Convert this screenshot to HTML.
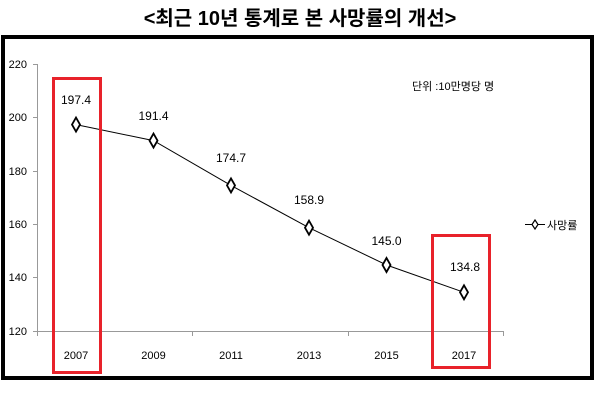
<!DOCTYPE html>
<html><head><meta charset="utf-8"><style>
html,body{margin:0;padding:0;background:#fff;width:600px;height:400px;overflow:hidden}
</style></head><body>
<svg width="600" height="400" xmlns="http://www.w3.org/2000/svg" font-family="'Liberation Sans Narrow','Liberation Sans','Noto Sans CJK KR',sans-serif">
<text x="300" y="25" text-anchor="middle" font-size="20" font-weight="bold" font-family="'Liberation Sans','Noto Sans CJK KR',sans-serif">&lt;최근 10년 통계로 본 사망률의 개선&gt;</text>
<rect x="3" y="37" width="589" height="341" fill="none" stroke="#000" stroke-width="4"/>
<g stroke="#999" stroke-width="1">
<line x1="37.5" y1="64" x2="37.5" y2="336"/>
<line x1="33" y1="331.5" x2="503" y2="331.5"/>
<line x1="33" y1="64.5" x2="37" y2="64.5"/>
<line x1="33" y1="117.5" x2="37" y2="117.5"/>
<line x1="33" y1="171.5" x2="37" y2="171.5"/>
<line x1="33" y1="224.5" x2="37" y2="224.5"/>
<line x1="33" y1="277.5" x2="37" y2="277.5"/>
<line x1="192.5" y1="331" x2="192.5" y2="336"/>
<line x1="348.5" y1="331" x2="348.5" y2="336"/>
<line x1="503.5" y1="331" x2="503.5" y2="336"/>
</g>
<g font-size="11" text-anchor="end" fill="#000">
<text x="27" y="68">220</text><text x="27" y="121">200</text><text x="27" y="175">180</text>
<text x="27" y="228">160</text><text x="27" y="281">140</text><text x="27" y="335">120</text>
</g>
<g font-size="11" text-anchor="middle">
<text x="76" y="359">2007</text><text x="153.5" y="359">2009</text><text x="231" y="359">2011</text>
<text x="309" y="359">2013</text><text x="386.5" y="359">2015</text><text x="464" y="359">2017</text>
</g>
<polyline points="76,124.6 153.5,140.6 231,185.4 309,227.7 386.5,265 464,292.3" fill="none" stroke="#000" stroke-width="1"/>
<g fill="#fff" stroke="#000" stroke-width="1.8">
<polygon points="76,117.6 80,124.6 76,131.6 72,124.6"/>
<polygon points="153.5,133.6 157.5,140.6 153.5,147.6 149.5,140.6"/>
<polygon points="231,178.4 235,185.4 231,192.4 227,185.4"/>
<polygon points="309,220.7 313,227.7 309,234.7 305,227.7"/>
<polygon points="386.5,258 390.5,265 386.5,272 382.5,265"/>
<polygon points="464,285.3 468,292.3 464,299.3 460,292.3"/>
</g>
<g font-size="12" text-anchor="middle">
<text x="76" y="104">197.4</text><text x="153.5" y="120">191.4</text><text x="231" y="162">174.7</text>
<text x="309" y="204">158.9</text><text x="386.5" y="245">145.0</text><text x="465" y="271">134.8</text>
</g>
<text x="412" y="90" font-size="11">단위 :10만명당 명</text>
<line x1="525" y1="224.5" x2="545" y2="224.5" stroke="#000"/>
<polygon points="535,220 538,224.5 535,229 532,224.5" fill="#fff" stroke="#000" stroke-width="1.2"/>
<text x="547" y="229" font-size="11">사망률</text>
<rect x="53.5" y="78.5" width="47" height="294" fill="none" stroke="#e8222a" stroke-width="3"/>
<rect x="432.5" y="235.5" width="57" height="132" fill="none" stroke="#e8222a" stroke-width="3"/>
</svg>
</body></html>
